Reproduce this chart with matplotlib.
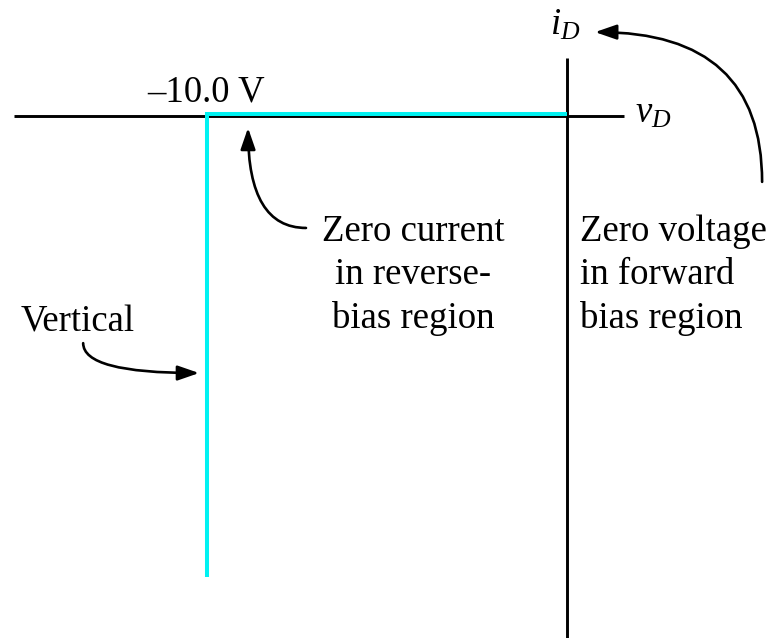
import matplotlib
matplotlib.use('Agg')
import matplotlib.pyplot as plt
from matplotlib.patches import FancyArrowPatch
from matplotlib.transforms import ScaledTranslation

plt.rcParams['font.family'] = ['Liberation Serif', 'DejaVu Serif']
plt.rcParams['mathtext.fontset'] = 'custom'
plt.rcParams['mathtext.rm'] = 'Liberation Serif'
plt.rcParams['mathtext.it'] = 'Liberation Serif:italic'

# ---- data (voltage in V, current in arbitrary units) ----
breakdown_voltage = -10.0
ideal_v = [-10.0, -10.0, 0.0]
ideal_i = [-12.86, 0.0, 0.0]
v_axis_v = [-15.36, 1.58]
v_axis_i = [0.0, 0.0]
i_axis_v = [0.0, 0.0]
i_axis_i = [1.61, -14.5]
voltage_label = "\u201310.0 V"
x_label = "$v_D$"
y_label = "$i_D$"
note_current = ["Zero current", "in reverse-", "bias region"]
note_voltage = ["Zero voltage", "in forward", "bias region"]
note_vertical = "Vertical"

FS = 26.5
fig = plt.figure(figsize=(7.75, 6.38), dpi=100)
ax = fig.add_axes([0, 0, 1, 1])
ax.set_xlim(-15.75, 5.778)
ax.set_ylim(-14.5, 3.222)
ax.axis('off')

# axes lines
ax.plot(v_axis_v, v_axis_i, color='black', lw=2.1, solid_capstyle='butt', zorder=2)
ax.plot(i_axis_v, i_axis_i, color='black', lw=2.1, solid_capstyle='butt', zorder=2)

# ideal characteristic (cyan), shifted slightly up so the black axis shows beneath
shift = ax.transData + ScaledTranslation(0, 1.6 / 72, fig.dpi_scale_trans)
ax.plot(ideal_v, ideal_i, color='#00F2F2', lw=2.9, solid_capstyle='butt',
        solid_joinstyle='miter', transform=shift, zorder=3)

# labels
ax.text(breakdown_voltage - 0.03, 0.39, voltage_label, fontsize=FS, ha='center', va='baseline')
ax.text(-0.47, 2.25, y_label, fontsize=FS, ha='left', va='baseline')
ax.text(1.89, -0.17, x_label, fontsize=FS, ha='left', va='baseline')

baselines = [-3.47, -4.68, -5.89]
for s, b in zip(note_current, baselines):
    ax.text(-4.28, b, s, fontsize=FS, ha='center', va='baseline')
for s, b in zip(note_voltage, baselines):
    ax.text(0.36, b, s, fontsize=FS, ha='left', va='baseline')
ax.text(-15.19, -6.0, note_vertical, fontsize=FS, ha='left', va='baseline')

style = "-|>,head_length=13,head_width=4.5"
arrows = [
    ((-7.25, -3.11), (-8.86, -0.33), "angle3,angleA=0,angleB=90"),
    ((-13.44, -6.31), (-10.22, -7.14), "angle3,angleA=90,angleB=0"),
    ((5.42, -1.83), (0.78, 2.33), "angle3,angleA=90,angleB=0"),
]
for a, b, cs in arrows:
    p = FancyArrowPatch(a, b, arrowstyle=style, connectionstyle=cs, mutation_scale=1,
                        color='black', lw=1.9, shrinkA=0, shrinkB=0, zorder=4)
    ax.add_patch(p)

fig.savefig('out.png', dpi=100, facecolor='white')
